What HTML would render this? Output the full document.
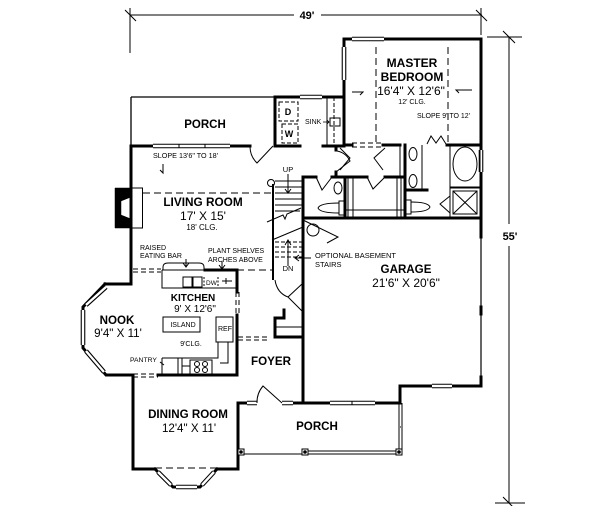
<!DOCTYPE html>
<html><head><meta charset="utf-8">
<style>
html,body{margin:0;padding:0;background:#fff;}
svg{display:block;}
text{font-family:"Liberation Sans",Arial,sans-serif;fill:#000;stroke:none;}
.b{font-weight:bold;}
</style></head><body>
<svg width="600" height="506" viewBox="0 0 600 506" xmlns="http://www.w3.org/2000/svg">
<rect width="600" height="506" fill="#fff"/>
<g fill="none" stroke="#000">

<!-- dimensions -->
<g stroke-width="1">
<path d="M130,15 H294 M321,15 H482"/>
<path d="M130,8 V53 M481,8 V35"/>
<path d="M125,10 L136,21 M476,10 L487,21"/>
<path d="M509,37 V224 M509,246 V503"/>
<path d="M487,37 H522 M495,503 H525"/>
<path d="M503,31 L515,43 M503,497 L515,509"/>
</g>

<!-- rear porch -->
<path d="M131,97 H275 M131,97 V146" stroke-width="1.3"/>

<!-- thick walls -->
<g stroke-width="3" stroke-linecap="square">
<path d="M131,146 V284 H105"/>
<path d="M131,146 H250"/>
<path d="M275,97 V146 H300"/>
<path d="M275,97 H344"/>
<path d="M323,146 H343"/>
<path d="M344,39 V146"/>
<path d="M344,39 H481 V237"/>
<path d="M344,145 H352 M383,145 H400 M447,145 H481"/>
<path d="M405,145 V217"/>
<path d="M405,190 H427"/>
<path d="M303,177 H316 M332,177 H367 M385,177 H405"/>
<path d="M345,177 V217"/>
<path d="M303,177 V403"/>
<path d="M303,218 H481"/>
<path d="M481,307 V314 M481,377 V386 H400 V403"/>
<path d="M105,284 L83,307 V348 L106,375 H133"/>
<path d="M158,375 H237 V315 M237,292 V270 H205"/>
<path d="M133,375 V469 H155 M217,469 H238 V403 H247"/>
<path d="M293,403 H330 M375,403 H400"/>
<path d="M155,469 L173,487 H200 L217,469"/>
<path d="M275,318 H284 V310 M275,318 V337 H303"/>
<path d="M336,146 V150 M336,172 V177"/>
</g>
<path d="M400,386 H400" stroke-width="3"/>
<path d="M481,237 V386" stroke-width="1.2"/>
<path d="M400,427 H401" stroke-width="1"/>

<!-- windows -->
<path d="M153,146 H230 M300,97 H322 M352,39 H384 M344,47 V80 M481,150 V172 M247,403 H257 M282,403 H293 M330,403 H375 M432,386 H452 M106,287 L86,305 M83,310 V345 M86,351 L104,372 M158,472 L171,485 M176,487 H197 M202,485 L214,472" stroke-width="4.6"/>
<path d="M153,146 H230 M300,97 H322 M352,39 H384 M344,47 V80 M481,150 V172 M247,403 H257 M282,403 H293 M330,403 H375 M432,386 H452 M106,287 L86,305 M83,310 V345 M86,351 L104,372 M158,472 L171,485 M176,487 H197 M202,485 L214,472" stroke="#fff" stroke-width="2.4"/>
<path d="M179,144 V148 M205,144 V148 M352,401 V405" stroke-width="1"/>

<!-- dashed lines -->
<g stroke-width="1" stroke-dasharray="7,4">
<path d="M143,193 H272"/>
<path d="M237,270 H273"/>
<path d="M376,47 V143 M448,47 V143"/>
<path d="M155,468 H217"/>
</g>
<g stroke-width="1" stroke-dasharray="5,3">
<path d="M133,269 H161 M133,272 H161"/>
<path d="M133,374 H158 M133,377 H158"/>
<path d="M236,292 V315 M239,292 V315"/>
<path d="M238,337 H270 M238,340 H270"/>
<path d="M352,143 H383 M352,147 H383"/>
</g>

<!-- fireplace -->
<path d="M115,188 H131 V228 H115 Z M121,201 L131,197 V219 L121,215 Z" fill="#000" fill-rule="evenodd" stroke-width="0.5"/>
<rect x="131.5" y="188" width="11" height="40" stroke-width="1"/>

<!-- laundry -->
<g stroke-width="1" stroke-dasharray="4,2">
<rect x="279" y="102" width="19" height="19"/>
<rect x="282" y="124" width="16" height="19"/>
<path d="M334,97 V146"/>
</g>
<path d="M327,97 V146" stroke-width="1"/>
<rect x="330" y="118" width="10" height="8" stroke-width="1"/>
<path d="M323,122 H329 M327,120 L329,122 L327,124" stroke-width="0.8"/>

<!-- doors -->
<g stroke-width="1">
<path d="M273,146 L257,163 A23,23 0 0 1 250,147"/>
<path d="M336,172 L350,161 A18,18 0 0 0 337,151"/>
<path d="M316,177 L322,190 L332,177"/>
<path d="M367,177 L373,189 L385,177"/>
<path d="M340,148 L350,158 L340,170 M385,148 L374,158 L383,170"/>
<path d="M427,144 L431,136 L436,143 L441,136 L446,144"/>
<path d="M450,213 L440,204 L450,196"/>
<path d="M282,403 L263,386 A25,25 0 0 0 257,403"/>
<path d="M303,220 L338,237 L327,243"/>
<path d="M275,280 Q277,293 288,297 L302,284 M288,297 L302,311"/>
<path d="M275,327 H303"/>
</g>

<!-- bath fixtures -->
<g stroke-width="1">
<ellipse cx="413" cy="154" rx="4" ry="6.5"/>
<ellipse cx="413" cy="181" rx="4" ry="6.5"/>
<path d="M422,145 V190"/>
<rect x="450" y="145" width="30" height="42"/>
<ellipse cx="465" cy="164" rx="12" ry="17"/>
<rect x="450" y="188" width="30" height="29"/>
<rect x="453" y="191" width="24" height="23"/>
<path d="M453,191 L477,214 M477,191 L453,214"/>
<rect x="406" y="200" width="5" height="14"/>
<path d="M411,202 Q428,202 430,207 Q428,212 411,212"/>
<ellipse cx="338" cy="188" rx="4" ry="6"/>
<rect x="339" y="201" width="5" height="14"/>
<path d="M339,203 Q320,203 318,208 Q320,213 339,213"/>
<path d="M348,177 V217 M353,177 V217 M345,210 H405 M397,177 V217 M401,177 V217"/>
<path d="M400,145 V177"/>
<circle cx="313" cy="230" r="6"/>
</g>

<!-- stairs -->
<g stroke-width="1">
<path d="M273,184 V280" stroke-width="2"/>
<circle cx="271" cy="183" r="3.5"/>
<path d="M275,181 H303 M275,187 H303 M275,193 H303 M275,199 H303 M275,205 H303 M275,211 H300"/>
<path d="M267,222 L283,215 L285,219 L287,214 L301,208"/>
<path d="M272,240 L303,227"/>
<path d="M288,174 V192 M285,189 L288,193 L291,189"/>
<path d="M288,266 V241 M285,245 L288,240 L291,245"/>
<path d="M311,258 H296 M299,255 L295,258 L299,261"/>
</g>
<g stroke-width="1" stroke-dasharray="4,2">
<path d="M275,242 H303 M275,247 H303 M275,252 H303 M275,257 H303"/>
</g>

<!-- kitchen -->
<g stroke-width="1">
<path d="M163,270 V267 Q163,263 168,263 H199 Q204,263 204,267 V270"/>
<path d="M162,270 H205 M162,270 V288 H237"/>
<rect x="183" y="277" width="9" height="10"/>
<rect x="193" y="277" width="9" height="10"/>
<path d="M204,277 V288 M218,277 V288" stroke-dasharray="2,1.5"/>
<path d="M222,281 H232 M226,278 V284"/>
<rect x="163" y="317" width="37" height="15"/>
<rect x="216" y="317" width="17" height="25"/>
<path d="M162,358 H218 V342 M228,342 V363 H220"/>
<path d="M162,358 V375"/>
<path d="M178,358 V375 M182,358 V375 M182,366 H190"/>
<rect x="190" y="360" width="22" height="14"/>
<circle cx="197" cy="364" r="2.5"/><circle cx="205" cy="364" r="2.5"/>
<circle cx="197" cy="370" r="2.5"/><circle cx="205" cy="370" r="2.5"/>
<path d="M160,362 L164,365"/>
<path d="M186,259 V266 M183,263 L186,267 L189,263"/>
<path d="M222,261 V268 M219,265 L222,269 L225,265"/>
<path d="M163,164 V173 L160,170"/>
<path d="M352,92 H363 L360,95 M472,90 H456 L459,93"/>
</g>

<!-- front porch -->
<g stroke-width="1">
<path d="M399,403 V452 M402,403 V454"/>
<path d="M238,454 H304"/>
<path d="M304,451 H398 M304,454 H398"/>
</g>
<g stroke-width="1" fill="#fff">
<rect x="238" y="449" width="6" height="6"/>
<rect x="302" y="449" width="6" height="6"/>
<rect x="396" y="449" width="6" height="6"/>
</g>
<g fill="#000" stroke="none">
<circle cx="241" cy="452" r="1.8"/><circle cx="305" cy="452" r="1.8"/><circle cx="399" cy="452" r="1.8"/>
</g>
</g>

<!-- text -->
<g text-anchor="middle">
<text x="307" y="19" class="b" font-size="11">49'</text>
<text x="510" y="240" class="b" font-size="11">55'</text>
<text x="205" y="128" class="b" font-size="11.5">PORCH</text>
<text x="412" y="67" class="b" font-size="12">MASTER</text>
<text x="412" y="81" class="b" font-size="12">BEDROOM</text>
<text x="411" y="95" font-size="12">16'4" X 12'6"</text>
<text x="412" y="104" font-size="7">12' CLG.</text>
<text x="203" y="206" class="b" font-size="11.8">LIVING ROOM</text>
<text x="203" y="220" font-size="12">17' X 15'</text>
<text x="202" y="230" font-size="8">18' CLG.</text>
<text x="288" y="172" font-size="7.5">UP</text>
<text x="288" y="271" font-size="7.5">DN</text>
<text x="406" y="273" class="b" font-size="11.6">GARAGE</text>
<text x="406" y="287" font-size="12">21'6" X 20'6"</text>
<text x="193" y="301" class="b" font-size="10">KITCHEN</text>
<text x="195" y="312" font-size="10">9' X 12'6"</text>
<text x="183" y="327" font-size="7">ISLAND</text>
<text x="225" y="331" font-size="7">REF</text>
<text x="191" y="346" font-size="7">9'CLG.</text>
<text x="117" y="324" class="b" font-size="11.6">NOOK</text>
<text x="118" y="337" font-size="11.6">9'4" X  11'</text>
<text x="271" y="365" class="b" font-size="11.6">FOYER</text>
<text x="188" y="418" class="b" font-size="11.6">DINING ROOM</text>
<text x="189" y="432" font-size="11.6">12'4" X 11'</text>
<text x="317" y="430" class="b" font-size="11.6">PORCH</text>
<text x="288" y="115" class="b" font-size="9">D</text>
<text x="289" y="137" class="b" font-size="9">W</text>
</g>
<g>
<text x="153" y="158" font-size="7.2">SLOPE 13'6" TO 18'</text>
<text x="417" y="118" font-size="7">SLOPE 9' TO 12'</text>
<text x="305" y="124" font-size="7">SINK</text>
<text x="140" y="250" font-size="7">RAISED</text>
<text x="140" y="258" font-size="7">EATING BAR</text>
<text x="208" y="253" font-size="7">PLANT SHELVES</text>
<text x="208" y="262" font-size="7">ARCHES ABOVE</text>
<text x="315" y="258" font-size="7.5">OPTIONAL BASEMENT</text>
<text x="315" y="267" font-size="7.5">STAIRS</text>
<text x="130" y="362" font-size="6.8">PANTRY</text>
<text x="206" y="285" font-size="6.5">DW</text>
</g>
</svg>
</body></html>
